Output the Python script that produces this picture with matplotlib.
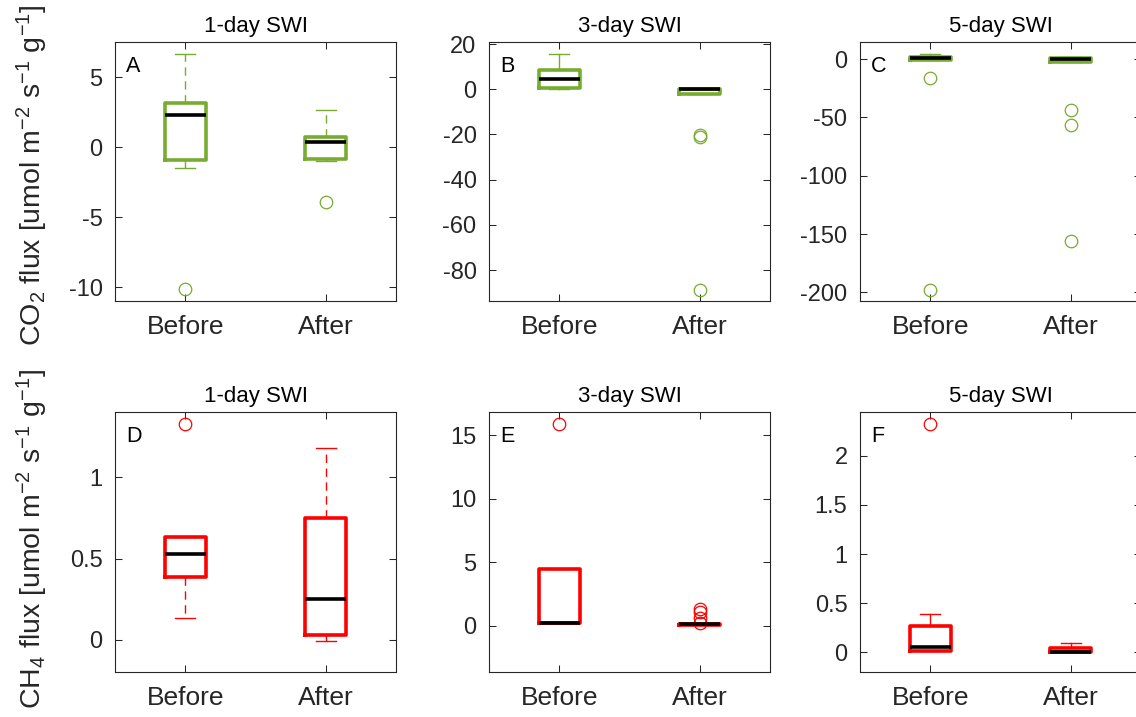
import matplotlib
matplotlib.use("Agg")
import matplotlib.pyplot as plt
from matplotlib.ticker import FuncFormatter

plt.rcParams['font.family'] = ['Liberation Sans', 'DejaVu Sans']
plt.rcParams['mathtext.fontset'] = 'custom'
plt.rcParams['mathtext.rm'] = 'Liberation Sans'
plt.rcParams['mathtext.it'] = 'Liberation Sans:italic'
plt.rcParams['axes.unicode_minus'] = False

# ---------------- data ----------------
groups = ['Before', 'After']
titles = ['1-day SWI', '3-day SWI', '5-day SWI']
letters_co2 = ['A', 'B', 'C']
letters_ch4 = ['D', 'E', 'F']

# CO2 flux (per panel: [Before, After])
co2_whislo = [[-1.48, -1.02], [0.1, -2.3], [-0.5, -2.5]]
co2_q1     = [[-0.93, -0.86], [0.4, -2.0], [-0.3, -2.1]]
co2_med    = [[2.31, 0.33], [4.7, -0.1], [0.8, 0.0]]
co2_q3     = [[3.14, 0.74], [8.5, 0.3], [1.6, 1.4]]
co2_whishi = [[6.66, 2.62], [15.6, 0.5], [4.3, 2.0]]
co2_fliers = [[[-10.14], [-3.93]],
              [[], [-20.3, -21.0, -88.9]],
              [[-16.0, -197.7], [-43.5, -56.1, -156.3]]]
co2_yticks = [[-10, -5, 0, 5], [-80, -60, -40, -20, 0, 20], [-200, -150, -100, -50, 0]]
co2_ylims = [(-11.0, 7.5), (-93.7, 20.9), (-207.5, 14.8)]

# CH4 flux
ch4_whislo = [[0.137, -0.004], [0.2, 0.02], [0.01, 0.0]]
ch4_q1     = [[0.387, 0.029], [0.2, 0.05], [0.015, 0.005]]
ch4_med    = [[0.527, 0.254], [0.22, 0.1], [0.05, 0.006]]
ch4_q3     = [[0.631, 0.748], [4.47, 0.15], [0.27, 0.04]]
ch4_whishi = [[0.631, 1.176], [4.47, 0.18], [0.386, 0.10]]
ch4_fliers = [[[1.328], []],
              [[15.9], [1.35, 1.05, 0.6, 0.25]],
              [[2.32], []]]
ch4_yticks = [[0, 0.5, 1], [0, 5, 10, 15], [0, 0.5, 1, 1.5, 2]]
ch4_ylims = [(-0.197, 1.40), (-3.65, 16.84), (-0.2, 2.445)]

dashed_whiskers = [True, False, False]

GREEN = '#77AC30'
RED = '#FF0000'
AX_COL = '#262626'

W, H = 1136, 717
fig = plt.figure(figsize=(W / 100, H / 100), dpi=100)

col_left_px = [115, 489, 860]
ax_w_px = 281
rows = [(42, 301), (412, 672)]


def make_stats(whislo, q1, med, q3, whishi, fliers):
    out = []
    for i in range(len(groups)):
        out.append(dict(whislo=whislo[i], q1=q1[i], med=med[i], q3=q3[i],
                        whishi=whishi[i], fliers=fliers[i], label=groups[i]))
    return out


fmt = FuncFormatter(lambda v, p: '%g' % v)

datasets = [
    (co2_whislo, co2_q1, co2_med, co2_q3, co2_whishi, co2_fliers, co2_yticks, co2_ylims, letters_co2, GREEN),
    (ch4_whislo, ch4_q1, ch4_med, ch4_q3, ch4_whishi, ch4_fliers, ch4_yticks, ch4_ylims, letters_ch4, RED),
]

for r, (wl, q1, md, q3, wh, fl, yt, yl, lets, col) in enumerate(datasets):
    top, bot = rows[r]
    for c in range(3):
        ax = fig.add_axes([col_left_px[c] / W, 1 - bot / H, ax_w_px / W, (bot - top) / H])
        stats = make_stats(wl[c], q1[c], md[c], q3[c], wh[c], fl[c])
        ls = (0, (6, 4)) if dashed_whiskers[c] else '-'
        ax.bxp(stats, positions=[1, 2], widths=0.29, capwidths=0.145,
               manage_ticks=False,
               boxprops=dict(color=col, linewidth=2.6, solid_joinstyle='round'),
               medianprops=dict(color='black', linewidth=2.6, solid_capstyle='butt'),
               whiskerprops=dict(color=col, linewidth=1.0, linestyle=ls),
               capprops=dict(color=col, linewidth=1.0),
               flierprops=dict(marker='o', markerfacecolor='none', markeredgecolor=col,
                               markersize=9, markeredgewidth=0.9, linestyle='none'))
        ax.set_xlim(0.5, 2.5)
        ax.set_ylim(*yl[c])
        ax.set_xticks([1, 2])
        ax.set_xticklabels(groups, fontsize=19)
        ax.set_yticks(yt[c])
        ax.yaxis.set_major_formatter(fmt)
        ax.tick_params(direction='in', top=True, right=True, length=5, width=0.75,
                       colors=AX_COL)
        ax.tick_params(axis='y', labelsize=17, pad=9)
        ax.tick_params(axis='x', pad=10)
        for sp in ax.spines.values():
            sp.set_color(AX_COL)
            sp.set_linewidth(0.8)
        ax.set_title(titles[c], fontsize=16, pad=7, color='black')
        ax.text(0.04, 0.945, lets[c], transform=ax.transAxes, fontsize=15.5,
                ha='left', va='top', color='black')

fig.text(41 / W, 1 - 175 / H, r'CO$_2$ flux [umol m$^{-2}$ s$^{-1}$ g$^{-1}$]',
         rotation=90, rotation_mode='anchor', ha='center', va='baseline',
         fontsize=20.5, color=AX_COL)
fig.text(41 / W, 1 - 539 / H, r'CH$_4$ flux [umol m$^{-2}$ s$^{-1}$ g$^{-1}$]',
         rotation=90, rotation_mode='anchor', ha='center', va='baseline',
         fontsize=20.5, color=AX_COL)

fig.savefig('out.png', dpi=100, facecolor='white')
